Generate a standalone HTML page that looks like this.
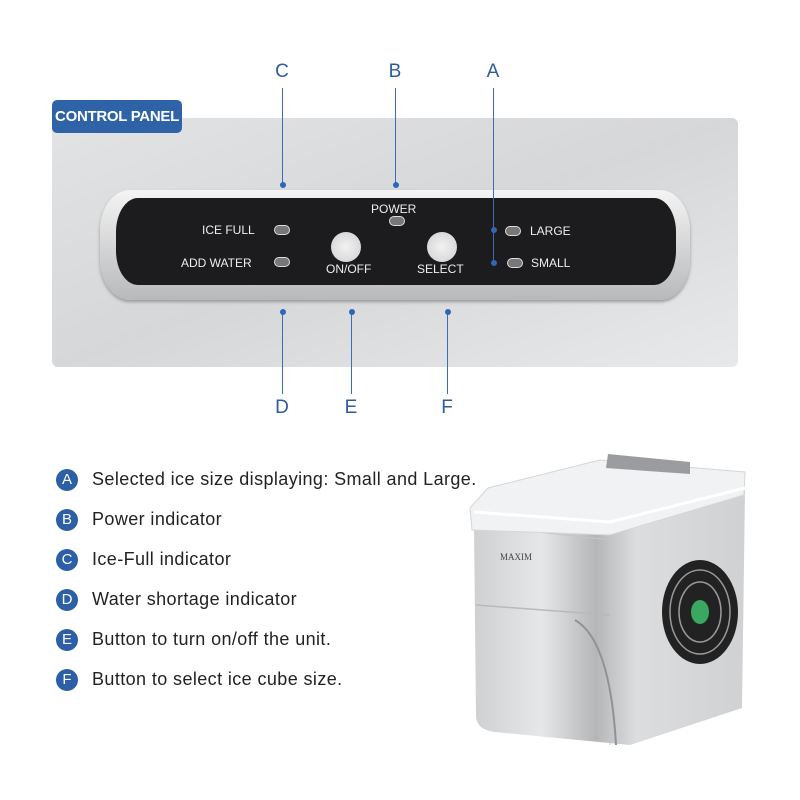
<!DOCTYPE html>
<html><head><style>
body{margin:0;width:800px;height:800px;background:#fff;position:relative;overflow:hidden;font-family:"Liberation Sans",sans-serif}
.a{position:absolute}
.L{position:absolute;color:#2d5c9e;font-size:19px;width:30px;text-align:center;margin-left:-15px}
.v{position:absolute;width:1px;background:#3c6db0}
.d{position:absolute;width:6px;height:6px;border-radius:50%;background:#2f66b5;margin-left:-3px;margin-top:-3px}
.led{position:absolute;width:14px;height:8px;border-radius:5px;background:#777;border:1.5px solid #ddd;margin-left:-8px;margin-top:-5px}
.t{position:absolute;color:#eee;font-size:12px;white-space:nowrap}
.c{position:absolute;left:56px;width:22px;height:22px;border-radius:50%;background:#2c5fa5;color:#fff;font-size:15px;text-align:center;line-height:22px}
.lt{position:absolute;left:92px;font-size:18px;letter-spacing:0.4px;color:#222;white-space:nowrap}
</style></head><body>
<div class="a" style="left:52px;top:118px;width:686px;height:249px;border-radius:6px;background:linear-gradient(160deg,#e2e3e5,#d6d7d9 50%,#e8e9ea)"></div>
<div class="a" style="left:52px;top:100px;width:130px;height:33px;border-radius:5px;background:#2e63a8;color:#fff;font-size:15px;font-weight:bold;line-height:33px;text-align:center;white-space:nowrap;letter-spacing:-0.3px">CONTROL PANEL</div>
<div class="a" style="left:100px;top:190px;width:590px;height:110px;border-radius:30px/40px;background:linear-gradient(#f4f4f4,#b8b9bb);box-shadow:0 2px 3px #999"></div>
<div class="a" style="left:116px;top:198px;width:560px;height:87px;border-radius:22px/34px;background:#1c1c1e"></div>
<div class="L" style="left:282px;top:61px">C</div><div class="L" style="left:395px;top:61px">B</div><div class="L" style="left:493px;top:61px">A</div>
<div class="L" style="left:282px;top:397px">D</div><div class="L" style="left:351px;top:397px">E</div><div class="L" style="left:447px;top:397px">F</div>
<div class="v" style="left:282px;top:88px;height:97px"></div><div class="d" style="left:283px;top:185px"></div>
<div class="v" style="left:395px;top:88px;height:97px"></div><div class="d" style="left:396px;top:185px"></div>
<div class="v" style="left:493px;top:88px;height:175px"></div><div class="d" style="left:494px;top:230px"></div><div class="d" style="left:494px;top:263px"></div>
<div class="v" style="left:282px;top:312px;height:82px"></div><div class="d" style="left:283px;top:312px"></div>
<div class="v" style="left:351px;top:312px;height:82px"></div><div class="d" style="left:352px;top:312px"></div>
<div class="v" style="left:447px;top:312px;height:82px"></div><div class="d" style="left:448px;top:312px"></div>
<div class="led" style="left:282px;top:230px"></div><div class="led" style="left:282px;top:262px"></div>
<div class="led" style="left:397px;top:221px"></div><div class="led" style="left:513px;top:231px"></div><div class="led" style="left:515px;top:263px"></div>
<div class="t" style="left:202px;top:223px">ICE FULL</div>
<div class="t" style="left:181px;top:256px">ADD WATER</div>
<div class="t" style="left:371px;top:202px">POWER</div>
<div class="t" style="left:530px;top:224px">LARGE</div>
<div class="t" style="left:531px;top:256px">SMALL</div>
<div class="t" style="left:326px;top:262px">ON/OFF</div>
<div class="t" style="left:417px;top:262px">SELECT</div>
<div class="a" style="left:331px;top:232px;width:30px;height:30px;border-radius:50%;background:radial-gradient(#f2f2f2,#cfcfcf)"></div>
<div class="a" style="left:427px;top:232px;width:30px;height:30px;border-radius:50%;background:radial-gradient(#f2f2f2,#cfcfcf)"></div>
<div class="c" style="top:469px">A</div><div class="lt" style="top:469px">Selected ice size displaying: Small and Large.</div>
<div class="c" style="top:509px">B</div><div class="lt" style="top:509px">Power indicator</div>
<div class="c" style="top:549px">C</div><div class="lt" style="top:549px">Ice-Full indicator</div>
<div class="c" style="top:589px">D</div><div class="lt" style="top:589px">Water shortage indicator</div>
<div class="c" style="top:629px">E</div><div class="lt" style="top:629px">Button to turn on/off the unit.</div>
<div class="c" style="top:669px">F</div><div class="lt" style="top:669px">Button to select ice cube size.</div>
<svg class="a" style="left:460px;top:440px" width="300" height="320">
<defs><linearGradient id="g1" x1="0" x2="1"><stop offset="0" stop-color="#cfd0d2"/><stop offset=".25" stop-color="#e6e7e8"/><stop offset=".45" stop-color="#b4b6b8"/><stop offset=".6" stop-color="#dcdddf"/><stop offset="1" stop-color="#d0d1d3"/></linearGradient></defs>
<path d="M14 85 L150 70 L285 50 L282 268 L170 305 L35 292 Q16 290 16 275 Z" fill="url(#g1)"/>
<path d="M14 85 L150 100 L150 305" fill="none" stroke="#c4c5c7" stroke-width="1"/>
<path d="M10 68 L28 48 L140 20 L285 32 L284 55 L150 95 L12 90 Z" fill="#f0f2f4" stroke="#d4d6d8"/>
<path d="M14 72 L150 82 L285 48" fill="none" stroke="#fff" stroke-width="3"/>
<path d="M148 14 L230 22 L230 34 L146 28 Z" fill="#9a9c9f"/>
<path d="M16 165 L150 175" stroke="#b8b9bb" stroke-width="1.5"/>
<path d="M115 180 Q150 200 156 305" fill="none" stroke="#909295" stroke-width="2"/>
<text x="40" y="120" font-size="9" fill="#444" font-family="Liberation Serif,serif">MAXIM</text>
<ellipse cx="240" cy="172" rx="38" ry="52" fill="#222"/>
<ellipse cx="240" cy="172" rx="30" ry="42" fill="none" stroke="#999" stroke-width="1.5"/>
<ellipse cx="240" cy="172" rx="21" ry="30" fill="none" stroke="#999" stroke-width="1.5"/>
<ellipse cx="240" cy="172" rx="9" ry="12" fill="#3aa860"/>
</svg>
</body></html>
